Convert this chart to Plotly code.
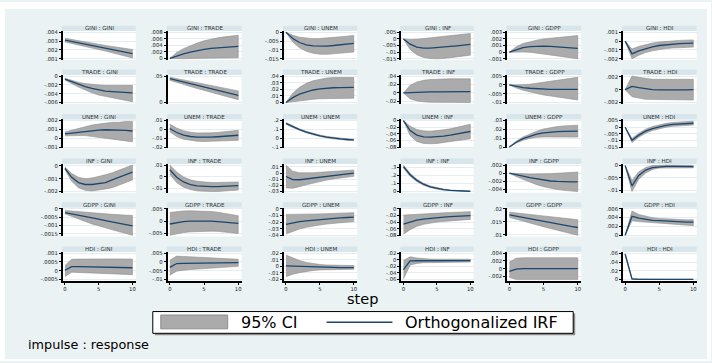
import plotly.graph_objects as go

# ---------------- data (impulse : response), steps 0..10 ----------------
steps = [0, 1, 2, 3, 4, 5, 6, 7, 8, 9, 10]
variables = ["GINI", "TRADE", "UNEM", "INF", "GDPP", "HDI"]

irf_GINI_GINI = [.0031, .00294, .00279, .00264, .00249, .00234, .00219, .00204, .00189, .00173, .00157]
lo_GINI_GINI = [.0029, .00272, .00255, .00238, .00221, .00204, .00187, .0017, .00152, .00131, .0011]
hi_GINI_GINI = [.00332, .00317, .00303, .0029, .00277, .00264, .00251, .00239, .00227, .00216, .00205]
yt_GINI_GINI = [.001, .002, .003, .004]

irf_GINI_TRADE = [0, .0008, .0014, .0019, .0024, .0028, .0031, .0033, .0035, .0036, .0037]
lo_GINI_TRADE = [0, -.0001, -.0001, 0, .0001, .0002, .0002, .0002, .0002, .0002, .0002]
hi_GINI_TRADE = [0, .0018, .003, .0039, .0047, .0054, .0059, .0063, .0066, .0069, .0071]
yt_GINI_TRADE = [0, .002, .004, .006, .008]

irf_GINI_UNEM = [0, -.0035, -.0058, -.0071, -.0077, -.0079, -.0078, -.0075, -.0071, -.0067, -.0063]
lo_GINI_UNEM = [0, -.0055, -.0088, -.0108, -.0119, -.0124, -.0125, -.0123, -.012, -.0116, -.0112]
hi_GINI_UNEM = [0, -.0017, -.0028, -.0034, -.0036, -.0035, -.0033, -.003, -.0026, -.0022, -.0018]
yt_GINI_UNEM = [-.015, -.01, -.005, 0]

irf_GINI_INF = [0, -.004, -.0062, -.0069, -.007, -.0067, -.0062, -.0057, -.0052, -.0047, -.0042]
lo_GINI_INF = [0, -.008, -.012, -.014, -.0148, -.015, -.0148, -.0143, -.0137, -.013, -.0123]
hi_GINI_INF = [0, -.0005, -.0003, .0003, .001, .0016, .0022, .0028, .0033, .0037, .0041]
yt_GINI_INF = [-.015, -.01, -.005, 0, .005]

irf_GINI_GDPP = [0, .0004, .00068, .00083, .0009, .00091, .00088, .00082, .00075, .00066, .00057]
lo_GINI_GDPP = [0, 0, .00005, 0, -.0001, -.00025, -.0004, -.00055, -.0007, -.00085, -.001]
hi_GINI_GDPP = [0, .0008, .0013, .0016, .0018, .002, .0021, .0022, .0023, .0024, .0025]
yt_GINI_GDPP = [-.001, 0, .001, .002, .003]

irf_GINI_HDI = [0, -.00145, -.0011, -.00085, -.00065, -.0005, -.0004, -.00033, -.00028, -.00025, -.00022]
lo_GINI_HDI = [0, -.002, -.0016, -.0013, -.0011, -.00095, -.00085, -.00078, -.00073, -.0007, -.00068]
hi_GINI_HDI = [0, -.0009, -.0006, -.0004, -.00022, -.0001, -.00002, .00004, .00008, .00011, .00013]
yt_GINI_HDI = [-.002, -.001, 0, .001]

irf_TRADE_GINI = [-.0007, -.0013, -.0019, -.0024, -.0028, -.0031, -.0034, -.0035, -.0036, -.0037, -.0038]
lo_TRADE_GINI = [-.0009, -.0017, -.0025, -.0032, -.0038, -.0043, -.0047, -.005, -.0053, -.0055, -.0058]
hi_TRADE_GINI = [-.0005, -.001, -.0014, -.0017, -.0019, -.002, -.0021, -.0021, -.0021, -.0021, -.0021]
yt_TRADE_GINI = [-.006, -.004, -.002, 0]

irf_TRADE_TRADE = [.045, .0418, .0386, .0354, .0322, .029, .0259, .0228, .0198, .0168, .0138]
lo_TRADE_TRADE = [.042, .038, .0342, .0303, .0265, .0228, .0192, .0157, .0122, .0088, .0055]
hi_TRADE_TRADE = [.048, .0455, .043, .0405, .038, .0355, .033, .0305, .028, .0255, .022]
yt_TRADE_TRADE = [0, .05]

irf_TRADE_UNEM = [0, .0075, .0128, .0165, .019, .0207, .0218, .0224, .0227, .0228, .0228]
lo_TRADE_UNEM = [0, .001, .0025, .004, .005, .0058, .0063, .0065, .0066, .0066, .0066]
hi_TRADE_UNEM = [0, .014, .023, .029, .033, .0355, .037, .0378, .0381, .038, .0378]
yt_TRADE_UNEM = [0, .01, .02, .03, .04]

irf_TRADE_INF = [0, .001, .0017, .0022, .0026, .0028, .0029, .003, .003, .003, .003]
lo_TRADE_INF = [0, -.014, -.019, -.021, -.022, -.0225, -.0227, -.0228, -.0228, -.0228, -.0228]
hi_TRADE_INF = [0, .018, .026, .030, .032, .033, .0333, .0335, .0335, .0335, .0335]
yt_TRADE_INF = [-.02, 0, .02, .04]

irf_TRADE_GDPP = [0, -.0009, -.0015, -.0019, -.0022, -.0024, -.0025, -.0025, -.0025, -.0025, -.0025]
lo_TRADE_GDPP = [0, -.0017, -.003, -.004, -.0049, -.0057, -.0063, -.0069, -.0075, -.008, -.0085]
hi_TRADE_GDPP = [0, -.0001, .0001, .0004, .0009, .0014, .0019, .0025, .0031, .0037, .0043]
yt_TRADE_GDPP = [-.01, -.005, 0, .005]

irf_TRADE_HDI = [0, .0005, .0003, .0001, 0, -.00003, -.00005, -.00005, -.00004, -.00002, 0]
lo_TRADE_HDI = [0, -.0011, -.0013, -.0015, -.0016, -.0016, -.0016, -.0016, -.0016, -.0016, -.0016]
hi_TRADE_HDI = [0, .0021, .0019, .0017, .0016, .0016, .0016, .0016, .0016, .0016, .0016]
yt_TRADE_HDI = [-.002, 0, .002]

irf_UNEM_GINI = [.0005, .0006, .0007, .0008, .00087, .00093, .00096, .00096, .00093, .00088, .00082]
lo_UNEM_GINI = [.00027, .0003, .0003, .0003, .00022, .00012, .00002, -.0001, -.0002, -.0003, -.0004]
hi_UNEM_GINI = [.0007, .0009, .0011, .0013, .0015, .0016, .0017, .0018, .0018, .0019, .0019]
yt_UNEM_GINI = [-.001, 0, .001, .002]

irf_UNEM_TRADE = [.001, -.0035, -.0064, -.008, -.0087, -.0089, -.0087, -.0083, -.0078, -.0072, -.0066]
lo_UNEM_TRADE = [-.0027, -.008, -.011, -.0126, -.0134, -.0137, -.0137, -.0135, -.0132, -.0128, -.0124]
hi_UNEM_TRADE = [.006, .0015, -.0015, -.0032, -.004, -.0042, -.0039, -.0034, -.0027, -.0019, -.001]
yt_UNEM_TRADE = [-.02, -.01, 0, .01]

irf_UNEM_UNEM = [.168, .13, .098, .07, .047, .028, .013, .001, -.008, -.014, -.019]
lo_UNEM_UNEM = [.158, .121, .09, .062, .039, .02, .005, -.007, -.016, -.022, -.026]
hi_UNEM_UNEM = [.178, .139, .106, .078, .055, .036, .021, .009, 0, -.007, -.012]
yt_UNEM_UNEM = [-.1, 0, .1, .2]

irf_UNEM_INF = [0, -.03, -.044, -.049, -.05, -.049, -.047, -.044, -.041, -.037, -.033]
lo_UNEM_INF = [0, -.045, -.063, -.069, -.07, -.069, -.067, -.064, -.061, -.058, -.055]
hi_UNEM_INF = [0, -.017, -.027, -.031, -.032, -.031, -.028, -.025, -.021, -.016, -.011]
yt_UNEM_INF = [-.08, -.06, -.04, -.02, 0]

irf_UNEM_GDPP = [0, .0055, .0095, .0125, .0146, .016, .017, .0175, .0178, .018, .018]
lo_UNEM_GDPP = [0, .0045, .0077, .0098, .011, .0115, .0117, .0117, .0116, .0115, .0113]
hi_UNEM_GDPP = [0, .0065, .0115, .015, .018, .0205, .022, .0232, .024, .0245, .0247]
yt_UNEM_GDPP = [0, .01, .02, .03]

irf_UNEM_HDI = [0, -.0099, -.006, -.003, -.001, .0004, .0014, .0021, .0025, .0028, .003]
lo_UNEM_HDI = [0, -.0115, -.0075, -.0045, -.0025, -.001, 0, .0007, .0011, .0014, .0016]
hi_UNEM_HDI = [0, -.0085, -.0045, -.0015, .0005, .0019, .0029, .0036, .004, .0043, .0045]
yt_UNEM_HDI = [-.015, -.01, -.005, 0, .005]

irf_INF_GINI = [-.0002, -.0009, -.0013, -.00145, -.00145, -.0014, -.0013, -.0011, -.0009, -.0007, -.0005]
lo_INF_GINI = [-.0003, -.0012, -.0017, -.0019, -.00195, -.0019, -.0018, -.0017, -.0015, -.0013, -.0011]
hi_INF_GINI = [-.0001, -.0006, -.0009, -.001, -.00095, -.00085, -.0007, -.00055, -.00035, -.00015, .00005]
yt_INF_GINI = [-.002, -.001, 0]

irf_INF_TRADE = [.006, -.0005, -.0045, -.0068, -.0079, -.0084, -.0086, -.0086, -.0084, -.0081, -.0077]
lo_INF_TRADE = [.002, -.005, -.009, -.011, -.0122, -.0127, -.0128, -.0127, -.0124, -.012, -.0115]
hi_INF_TRADE = [.01, .004, -.0002, -.0027, -.004, -.0047, -.005, -.005, -.0049, -.0047, -.0045]
yt_INF_TRADE = [-.01, 0, .01]

irf_INF_UNEM = [-.0055, -.0105, -.0108, -.0095, -.0078, -.006, -.0045, -.0031, -.0019, -.0009, 0]
lo_INF_UNEM = [-.024, -.0245, -.022, -.019, -.016, -.0135, -.0113, -.0094, -.0078, -.0064, -.0053]
hi_INF_UNEM = [.013, .003, .0005, 0, .0005, .0013, .002, .0028, .0036, .0043, .005]
yt_INF_UNEM = [-.03, -.02, -.01, 0, .01]

irf_INF_INF = [.31, .21, .14, .092, .06, .039, .025, .016, .01, .006, .004]
lo_INF_INF = [.29, .192, .125, .079, .05, .031, .019, .011, .006, .003, .001]
hi_INF_INF = [.33, .228, .155, .105, .07, .047, .031, .021, .014, .009, .007]
yt_INF_INF = [0, .1, .2, .3]

irf_INF_GDPP = [0, -.0003, -.0007, -.0011, -.0014, -.0017, -.0019, -.002, -.0021, -.0021, -.0021]
lo_INF_GDPP = [0, -.0008, -.0015, -.0022, -.0028, -.0033, -.0037, -.004, -.0042, -.0044, -.0045]
hi_INF_GDPP = [0, 0, -.0001, -.0002, -.0002, -.0002, -.0001, 0, .0001, .0002, .0003]
yt_INF_GDPP = [-.004, -.002, 0, .002]

irf_INF_HDI = [0, -.0082, -.004, -.0018, -.0008, -.0004, -.0003, -.0003, -.0003, -.0004, -.0004]
lo_INF_HDI = [0, -.0105, -.0055, -.003, -.0016, -.001, -.0008, -.0008, -.0008, -.0009, -.0009]
hi_INF_HDI = [0, -.006, -.0025, -.0008, 0, .0002, .0002, .0002, .0001, .0001, .0001]
yt_INF_HDI = [-.01, -.005, 0]

irf_GDPP_GINI = [-.00023, -.0003, -.00038, -.00046, -.00054, -.00062, -.0007, -.00078, -.00086, -.00094, -.00102]
lo_GDPP_GINI = [-.0003, -.00045, -.0006, -.00075, -.0009, -.00102, -.00113, -.00125, -.00137, -.00148, -.00158]
hi_GDPP_GINI = [-.0001, -.00014, -.00017, -.0002, -.00023, -.00026, -.0003, -.00033, -.00035, -.00037, -.0004]
yt_GDPP_GINI = [-.0015, -.001, -.0005, 0]

irf_GDPP_TRADE = [-.0012, -.0006, -.0002, 0, .0001, .0001, 0, -.0002, -.0004, -.0006, -.0009]
lo_GDPP_TRADE = [-.0058, -.0052, -.0047, -.0044, -.0042, -.0041, -.0041, -.0042, -.0044, -.0047, -.0051]
hi_GDPP_TRADE = [.0035, .0039, .0041, .0042, .0042, .0041, .0039, .0036, .0032, .0027, .0022]
yt_GDPP_TRADE = [-.005, 0, .005]

irf_GDPP_UNEM = [-.0235, -.021, -.0195, -.0183, -.0172, -.0162, -.0153, -.0145, -.0138, -.0131, -.0125]
lo_GDPP_UNEM = [-.038, -.034, -.0305, -.028, -.026, -.0245, -.023, -.022, -.021, -.02, -.0192]
hi_GDPP_UNEM = [-.0085, -.0085, -.0084, -.0082, -.008, -.0077, -.0073, -.007, -.0066, -.0062, -.0058]
yt_GDPP_UNEM = [-.04, -.03, -.02, -.01, 0]

irf_GDPP_INF = [-.046, -.039, -.034, -.031, -.0285, -.0265, -.025, -.0237, -.0226, -.0216, -.0208]
lo_GDPP_INF = [-.077, -.063, -.053, -.047, -.043, -.04, -.038, -.036, -.0345, -.033, -.032]
hi_GDPP_INF = [-.019, -.0175, -.0163, -.0152, -.0142, -.0132, -.0122, -.0113, -.0104, -.0095, -.0086]
yt_GDPP_INF = [-.08, -.06, -.04, -.02, 0]

irf_GDPP_GDPP = [.0177, .0172, .0166, .0161, .0155, .015, .0145, .014, .0136, .0132, .0128]
lo_GDPP_GDPP = [.0167, .016, .0152, .0145, .0138, .0131, .0124, .0117, .0111, .0104, .0098]
hi_GDPP_GDPP = [.0187, .0184, .0181, .0178, .0175, .0172, .0169, .0166, .0163, .016, .0158]
yt_GDPP_GDPP = [.01, .015, .02]

irf_GDPP_HDI = [0, .0043, .0039, .0036, .0034, .0033, .0032, .0031, .0031, .003, .003]
lo_GDPP_HDI = [0, .0033, .0031, .0029, .0028, .0027, .0026, .0025, .0024, .0023, .0022]
hi_GDPP_HDI = [0, .0055, .0047, .0043, .004, .0038, .0037, .0036, .0035, .0035, .0035]
yt_GDPP_HDI = [0, .002, .004, .006]

irf_HDI_GINI = [.00003, .00023, .00023, .00022, .00022, .00021, .0002, .0002, .00019, .00018, .00017]
lo_HDI_GINI = [-.00033, -.00008, -.00009, -.0001, -.00012, -.00013, -.00015, -.00017, -.00018, -.0002, -.00022]
hi_HDI_GINI = [.0003, .00065, .00066, .00067, .00067, .00067, .00067, .00067, .00067, .00067, .00066]
yt_HDI_GINI = [-.0005, 0, .0005, .001]

irf_HDI_TRADE = [-.0031, -.0009, -.0008, -.0007, -.0007, -.0006, -.0006, -.0005, -.0005, -.0004, -.0004]
lo_HDI_TRADE = [-.0075, -.0052, -.0047, -.0043, -.004, -.0037, -.0034, -.0031, -.0029, -.0027, -.0025]
hi_HDI_TRADE = [.001, .0033, .0031, .0029, .0027, .0025, .0023, .0021, .0019, .0017, .0015]
yt_HDI_TRADE = [-.01, -.005, 0, .005]

irf_HDI_UNEM = [.0008, .0003, -.0002, -.0006, -.0009, -.0012, -.0014, -.0016, -.0018, -.0019, -.002]
lo_HDI_UNEM = [-.0155, -.012, -.0095, -.0075, -.0062, -.0054, -.0049, -.0046, -.0045, -.0044, -.0044]
hi_HDI_UNEM = [.017, .0125, .0088, .006, .004, .0028, .002, .0016, .0014, .0013, .0012]
yt_HDI_UNEM = [-.02, -.01, 0, .01, .02]

irf_HDI_INF = [-.03, -.0035, -.003, -.0028, -.0027, -.0027, -.0027, -.0027, -.0026, -.0026, -.0026]
lo_HDI_INF = [-.058, -.016, -.011, -.009, -.008, -.0075, -.0072, -.007, -.007, -.007, -.007]
hi_HDI_INF = [-.002, .009, .005, .003, .002, .0017, .0016, .0015, .0015, .0015, .0015]
yt_HDI_INF = [-.06, -.04, -.02, 0, .02]

irf_HDI_GDPP = [-.0007, -.0001, 0, 0, .00002, .00003, .00003, .00003, .00003, .00002, .00002]
lo_HDI_GDPP = [-.0022, -.0028, -.0028, -.0028, -.0028, -.0028, -.0028, -.0028, -.0028, -.0028, -.0028]
hi_HDI_GDPP = [.0017, .0027, .0028, .0028, .0028, .0028, .0028, .0028, .0028, .0028, .0028]
yt_HDI_GDPP = [-.002, 0, .002, .004]

irf_HDI_HDI = [.058, .0012, .0003, .0001, 0, 0, 0, 0, 0, 0, 0]
lo_HDI_HDI = [.0555, 0, -.0004, -.0003, -.0002, -.0002, -.0002, -.0002, -.0002, -.0002, -.0002]
hi_HDI_HDI = [.0605, .0025, .001, .0005, .0003, .0002, .0002, .0002, .0002, .0002, .0002]
yt_HDI_HDI = [0, .02, .04, .06]

xticks = [0, 5, 10]
legend_labels = ["95% CI", "Orthogonalized IRF"]
xtitle = "step"
note = "impulse : response"

# ---------------- layout geometry (pixels) ----------------
W, H = 712, 363
col_x0 = [63, 168, 284.3, 402, 508, 624]
col_w = [73, 74, 73.4, 72.3, 74, 73.7]
strip_top = [24, 68.3, 113.3, 158.3, 202.5, 247.3]
strip_h = 5.4
plot_h = 29.2

FONT = "'DejaVu Sans', Verdana, sans-serif"
NAVY = "#1A476F"
BAND = "#ABABAB"
BAND_LINE = "#8E8E8E"


def px(x):
    return x / W


def py(y):
    return 1 - y / H


def fmt(v):
    if v == 0:
        return "0"
    s = f"{v:.6f}".rstrip("0").rstrip(".")
    return s.replace("0.", ".", 1)


fig = go.Figure()
shapes = []
annotations = []
layout_axes = {}

g = globals()
for i, imp in enumerate(variables):
    for j, res in enumerate(variables):
        k = i * 6 + j + 1
        xs = "x" if k == 1 else f"x{k}"
        ys = "y" if k == 1 else f"y{k}"
        irf = g[f"irf_{imp}_{res}"]
        lo = g[f"lo_{imp}_{res}"]
        hi = g[f"hi_{imp}_{res}"]
        yt = g[f"yt_{imp}_{res}"]

        fig.add_trace(go.Scatter(
            x=steps + steps[::-1], y=hi + lo[::-1], fill="toself",
            fillcolor=BAND, line=dict(color=BAND_LINE, width=0.6),
            mode="lines", xaxis=xs, yaxis=ys, showlegend=False, hoverinfo="skip"))
        fig.add_trace(go.Scatter(
            x=steps, y=irf, mode="lines", line=dict(color=NAVY, width=1.3),
            xaxis=xs, yaxis=ys, showlegend=False))

        x0 = col_x0[j]
        x1 = x0 + col_w[j]
        top = strip_top[i]
        pt = top + strip_h
        pb = pt + plot_h

        ymin = min(min(lo), min(yt))
        ymax = max(max(hi), max(yt))
        pad = (ymax - ymin) * 0.045
        bottom_row = (i == 5)

        layout_axes["xaxis" if k == 1 else f"xaxis{k}"] = dict(
            domain=[px(x0), px(x1)], range=[-0.3, 10.5], anchor=ys,
            showgrid=False, zeroline=False,
            showline=bottom_row, linecolor="black", linewidth=1.5,
            ticks="outside" if bottom_row else "", ticklen=2, tickwidth=1,
            tickcolor="black", tickvals=xticks,
            ticktext=[str(t) for t in xticks],
            showticklabels=bottom_row,
            tickfont=dict(size=5.3, family=FONT, color="#222"))
        layout_axes["yaxis" if k == 1 else f"yaxis{k}"] = dict(
            domain=[py(pb), py(pt)], range=[ymin - pad, ymax + pad], anchor=xs,
            showgrid=True, gridcolor="#E6EDF0", gridwidth=1, zeroline=False,
            showline=True, linecolor="black", linewidth=2,
            ticks="outside", ticklen=2, tickwidth=1, tickcolor="black",
            tickvals=yt, ticktext=[fmt(v) for v in yt],
            tickfont=dict(size=5.3, family=FONT, color="#222"))

        # title strip
        shapes.append(dict(type="rect", xref="paper", yref="paper",
                           x0=px(x0 - 1), x1=px(x1), y0=py(pt), y1=py(top),
                           fillcolor="#D8E5EB", line=dict(width=0), layer="below"))
        annotations.append(dict(text=f"{imp} : {res}", xref="paper", yref="paper",
                                x=px((x0 + x1) / 2), y=py(top + strip_h / 2),
                                xanchor="center", yanchor="middle", showarrow=False,
                                font=dict(size=5.6, family=FONT, color="#333")))

# white outer frame
for (a, b, c, d) in [(0, 712, 0, 7), (0, 5, 0, 363), (708, 712, 0, 363), (0, 712, 361, 363)]:
    shapes.append(dict(type="rect", xref="paper", yref="paper",
                       x0=px(a), x1=px(b), y0=py(d), y1=py(c),
                       fillcolor="white", line=dict(width=0), layer="above"))

# legend box with shadow
shapes.append(dict(type="rect", xref="paper", yref="paper",
                   x0=px(155), x1=px(576), y0=py(337), y1=py(315),
                   fillcolor="#8C8C8C", line=dict(width=0), layer="above"))
shapes.append(dict(type="rect", xref="paper", yref="paper",
                   x0=px(153), x1=px(574), y0=py(335), y1=py(313),
                   fillcolor="white", line=dict(color="black", width=1), layer="above"))
shapes.append(dict(type="rect", xref="paper", yref="paper",
                   x0=px(161), x1=px(228), y0=py(330.5), y1=py(316.5),
                   fillcolor=BAND, line=dict(color=BAND_LINE, width=1), layer="above"))
shapes.append(dict(type="line", xref="paper", yref="paper",
                   x0=px(327), x1=px(393), y0=py(323.8), y1=py(323.8),
                   line=dict(color=NAVY, width=1.3), layer="above"))
annotations.append(dict(text=legend_labels[0], xref="paper", yref="paper",
                        x=px(239), y=py(324), xanchor="left", yanchor="middle",
                        showarrow=False, font=dict(size=16, family=FONT, color="black")))
annotations.append(dict(text=legend_labels[1], xref="paper", yref="paper",
                        x=px(404), y=py(324), xanchor="left", yanchor="middle",
                        showarrow=False, font=dict(size=16, family=FONT, color="black")))
annotations.append(dict(text=xtitle, xref="paper", yref="paper",
                        x=px(363.5), y=py(300.5), xanchor="center", yanchor="middle",
                        showarrow=False, font=dict(size=14.5, family=FONT, color="black")))
annotations.append(dict(text=note, xref="paper", yref="paper",
                        x=px(26.5), y=py(346.5), xanchor="left", yanchor="middle",
                        showarrow=False, font=dict(size=12.8, family=FONT, color="black")))

fig.update_layout(
    width=W, height=H, margin=dict(l=0, r=0, t=0, b=0),
    paper_bgcolor="#EAF2F3", plot_bgcolor="white",
    showlegend=False, shapes=shapes, annotations=annotations,
    font=dict(family=FONT), **layout_axes)

fig.write_html("out.html", config={"displayModeBar": False},
               post_script="document.body.style.margin='0';document.body.style.overflow='hidden';")
